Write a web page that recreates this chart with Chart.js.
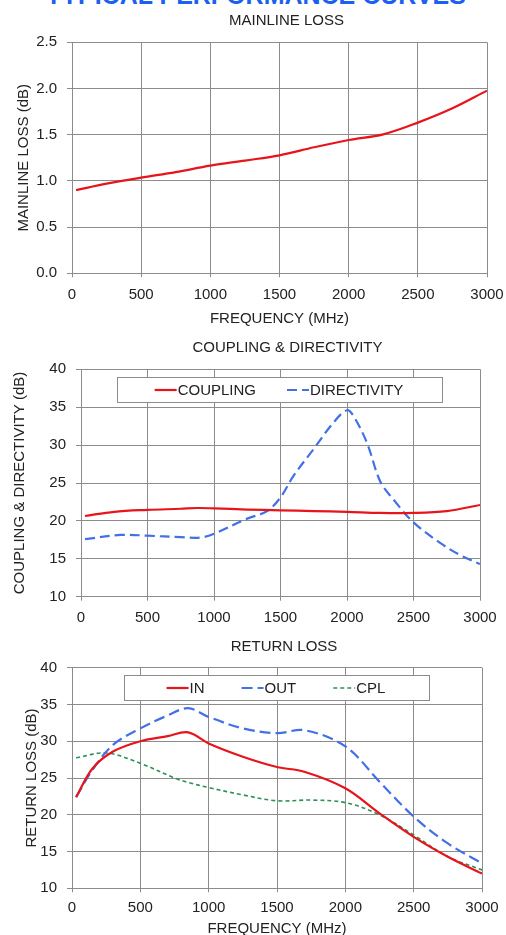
<!DOCTYPE html>
<html>
<head>
<meta charset="utf-8">
<script src="https://cdn.jsdelivr.net/npm/chart.js@4.4.1/dist/chart.umd.min.js"></script>
<style>
  body { margin: 0; width: 506px; height: 935px; overflow: hidden; background: #fff; position: relative; font-family: "Liberation Sans", Arial, sans-serif; }
  .hdr { position: absolute; left: 6px; width: 500px; top: -17px; line-height: 25px; text-align: center; font-size: 25px; font-weight: bold; color: #1d5ff0; }
  canvas { position: absolute; left: 0; }
</style>
</head>
<body>
<div class="hdr">TYPICAL PERFORMANCE CURVES</div>
<canvas id="lossChart" width="506" height="330" style="top:0"></canvas>
<canvas id="cplChart" width="499" height="300" style="top:330px"></canvas>
<canvas id="rlChart" width="506" height="310" style="top:630px"></canvas>
<script>
// frequency axis
const freqTicks = [0, 500, 1000, 1500, 2000, 2500, 3000];

// mainline loss
const lossFreq = [30, 250, 500, 750, 1000, 1250, 1500, 1750, 2000, 2250, 2500, 2750, 3000];
const lossDb = [0.9, 0.97, 1.035, 1.095, 1.165, 1.22, 1.277, 1.364, 1.443, 1.504, 1.631, 1.786, 1.977];
const lossTicks = [0, 0.5, 1.0, 1.5, 2.0, 2.5];

// coupling & directivity
const couplingFreq = [30, 250, 500, 750, 875, 1000, 1250, 1500, 1750, 2000, 2250, 2500, 2750, 3000];
const couplingDb = [20.65, 21.2, 21.45, 21.6, 21.7, 21.65, 21.5, 21.4, 21.3, 21.2, 21.05, 21.05, 21.3, 22.1];
const directivityFreq = [30, 300, 500, 750, 900, 1000, 1250, 1400, 1500, 1600, 1750, 1900, 2000, 2050, 2150, 2250, 2350, 2500, 2700, 2850, 3000];
const directivityDb = [17.6, 18.15, 18.05, 17.85, 17.8, 18.3, 20.3, 21.3, 23.1, 26.0, 29.5, 33.0, 34.6, 33.8, 30.3, 25.2, 22.8, 19.8, 17.1, 15.5, 14.3];
const dbTicks = [10, 15, 20, 25, 30, 35, 40];

// return loss
const rlFreq = [30, 150, 300, 500, 700, 850, 1000, 1250, 1500, 1700, 2000, 2250, 2500, 2750, 3000];
const inDb = [22.4, 26.3, 28.6, 30.0, 30.7, 31.2, 29.7, 27.9, 26.5, 25.85, 23.6, 20.2, 17.0, 14.3, 12.0];
const outDb = [22.4, 26.1, 29.5, 31.75, 33.5, 34.5, 33.3, 31.75, 31.1, 31.5, 29.3, 24.5, 19.75, 16.1, 13.4];
const cplFreq = [30, 250, 500, 750, 850, 1000, 1250, 1500, 1750, 2000, 2250, 2500, 2750, 3000];
const cplDb = [27.75, 28.4, 27.0, 25.0, 24.4, 23.7, 22.7, 21.9, 22.0, 21.65, 20.0, 17.25, 14.3, 12.5];

const FONT = '"Liberation Sans", Arial, sans-serif';
const TXT = '#222';
const GRID = '#8c8c8c';
const RED = '#e8141c', BLUE = '#4470e6', GREEN = '#2f8f5a';

Chart.defaults.font.family = FONT;
Chart.defaults.font.size = 15;
Chart.defaults.color = TXT;

function pts(xs, ys) {
  return xs.map((x, i) => ({ x: x, y: ys[i] }));
}

function line(label, xs, ys, color, dash, width) {
  return {
    label: label,
    data: pts(xs, ys),
    borderColor: color,
    borderWidth: width || 2.2,
    borderDash: dash || [],
    pointRadius: 0,
    tension: 0.35,
    fill: false
  };
}

// title centred over the plot area
const plotTitle = {
  id: 'plotTitle',
  afterDraw(chart, args, opts) {
    const ctx = chart.ctx, a = chart.chartArea;
    ctx.save();
    ctx.font = '15px ' + FONT;
    ctx.fillStyle = TXT;
    ctx.textAlign = 'center';
    ctx.textBaseline = 'middle';
    ctx.fillText(opts.text, (a.left + a.right) / 2 + opts.dx, opts.y);
    ctx.restore();
  }
};

// legend drawn as a framed box inside the plot area
const boxLegend = {
  id: 'boxLegend',
  afterDatasetsDraw(chart, args, opts) {
    if (!opts.show) return;
    const ctx = chart.ctx, a = chart.chartArea;
    const x0 = Math.round(a.left + opts.left), y0 = Math.round(a.top + opts.top);
    ctx.save();
    ctx.fillStyle = '#fff';
    ctx.fillRect(x0, y0, opts.width, opts.height);
    ctx.strokeStyle = '#8c8c8c';
    ctx.lineWidth = 1;
    ctx.strokeRect(x0 + 0.5, y0 + 0.5, opts.width, opts.height);
    ctx.font = '15px ' + FONT;
    const items = chart.data.datasets.map(ds => ({ ds: ds, w: 24 + ctx.measureText(ds.label).width }));
    const total = items.reduce((s, it) => s + it.w, 0) + opts.gap * (items.length - 1);
    let x = x0 + (opts.width - total) / 2;
    const cy = y0 + opts.height / 2 + 0.5;
    items.forEach(it => {
      ctx.strokeStyle = it.ds.borderColor;
      ctx.lineWidth = it.ds.borderWidth;
      ctx.setLineDash(it.ds.borderDash);
      ctx.beginPath();
      ctx.moveTo(x, cy);
      ctx.lineTo(x + 22, cy);
      ctx.stroke();
      ctx.setLineDash([]);
      ctx.fillStyle = TXT;
      ctx.textBaseline = 'middle';
      ctx.fillText(it.ds.label, x + 23, cy + 1);
      x += it.w + opts.gap;
    });
    ctx.restore();
  }
};

function makeChart(id, cfg) {
  const xs = {
    type: 'linear',
    min: 0, max: 3000,
    afterBuildTicks: s => { s.ticks = freqTicks.map(v => ({ value: v })); },
    afterFit: s => { s.height = cfg.xHeight; s.paddingLeft = 0; s.paddingRight = 0; },
    grid: { color: GRID, tickColor: GRID, tickLength: 4, lineWidth: 1 },
    border: { color: GRID },
    ticks: { padding: cfg.xPad, maxRotation: 0, color: TXT, callback: v => String(v) },
    title: { display: !!cfg.xTitle, text: cfg.xTitle, padding: { top: 0, bottom: 2 }, color: TXT }
  };
  const ys = {
    type: 'linear',
    min: cfg.yTicks[0], max: cfg.yTicks[cfg.yTicks.length - 1],
    afterBuildTicks: s => { s.ticks = cfg.yTicks.map(v => ({ value: v })); },
    afterFit: s => { s.width = cfg.yWidth; },
    grid: { color: GRID, tickColor: GRID, tickLength: 5, lineWidth: 1 },
    border: { color: GRID },
    ticks: { padding: 10, color: TXT, callback: cfg.yFmt },
    title: { display: true, text: cfg.yTitle, padding: { top: cfg.yTitlePad, bottom: 0 }, color: TXT }
  };
  return new Chart(document.getElementById(id), {
    type: 'line',
    data: { datasets: cfg.datasets },
    options: {
      responsive: false,
      animation: false,
      devicePixelRatio: 1,
      layout: { padding: { left: 0, right: cfg.rightPad, top: cfg.topPad, bottom: 0 } },
      scales: { x: xs, y: ys },
      plugins: {
        legend: { display: false },
        tooltip: { enabled: false },
        title: { display: false },
        plotTitle: { text: cfg.title, y: cfg.titleY, dx: 7 },
        boxLegend: cfg.legend || { show: false }
      }
    },
    plugins: [plotTitle, boxLegend]
  });
}

makeChart('lossChart', {
  title: 'MAINLINE LOSS', titleY: 21, topPad: 42.3,
  xTitle: 'FREQUENCY (MHz)',
  xHeight: 56.7, xPad: 9,
  yTitle: 'MAINLINE LOSS (dB)', yTitlePad: 15, yWidth: 72,
  yTicks: lossTicks, yFmt: v => v.toFixed(1),
  rightPad: 19,
  datasets: [line('MAINLINE LOSS', lossFreq, lossDb, RED)]
});

makeChart('cplChart', {
  title: 'COUPLING & DIRECTIVITY', titleY: 18, topPad: 39.3,
  xTitle: '',
  xHeight: 33.3, xPad: 8,
  yTitle: 'COUPLING & DIRECTIVITY (dB)', yTitlePad: 11, yWidth: 81,
  yTicks: dbTicks, yFmt: v => String(v),
  rightPad: 19,
  legend: { show: true, left: 36, top: 8, width: 325, height: 25, gap: 30 },
  datasets: [
    line('COUPLING', couplingFreq, couplingDb, RED),
    line('DIRECTIVITY', directivityFreq, directivityDb, BLUE, [10, 5])
  ]
});

makeChart('rlChart', {
  title: 'RETURN LOSS', titleY: 17, topPad: 37.7,
  xTitle: 'FREQUENCY (MHz)',
  xHeight: 51.7, xPad: 7,
  yTitle: 'RETURN LOSS (dB)', yTitlePad: 23, yWidth: 72,
  yTicks: dbTicks, yFmt: v => String(v),
  rightPad: 24,
  legend: { show: true, left: 52, top: 7.5, width: 305, height: 25, gap: 36 },
  datasets: [
    line('IN', rlFreq, inDb, RED),
    line('OUT', rlFreq, outDb, BLUE, [11, 5]),
    line('CPL', cplFreq, cplDb, GREEN, [4, 3], 1.6)
  ]
});
</script>
</body>
</html>
